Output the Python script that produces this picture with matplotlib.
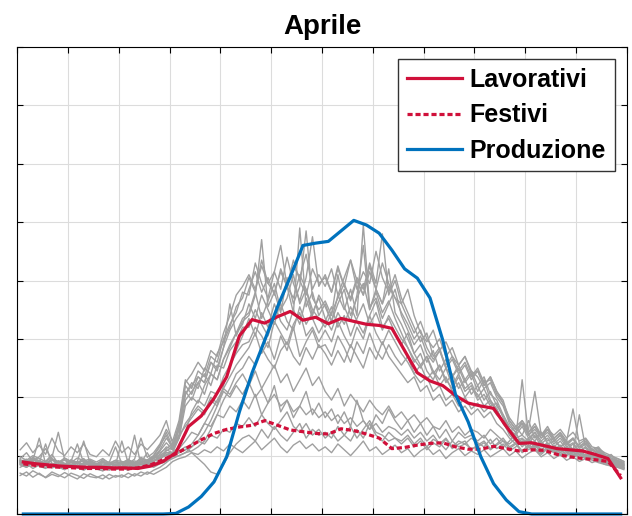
import numpy as np
import matplotlib
matplotlib.use("Agg")
import matplotlib.pyplot as plt

plt.rcParams['font.family'] = ['Liberation Sans', 'DejaVu Sans']

# medie su mezz'ora (48 valori, ore 0.25 ... 23.75)
ore_medie = np.arange(48) * 0.5 + 0.25
lavorativi = [0.89, 0.86, 0.84, 0.82, 0.81, 0.80, 0.80, 0.79, 0.79, 0.78, 0.82, 0.90,
              1.05, 1.50, 1.68, 1.98, 2.35, 3.05, 3.33, 3.27, 3.38, 3.47, 3.32, 3.37,
              3.26, 3.35, 3.30, 3.25, 3.23, 3.18, 2.80, 2.42, 2.28, 2.20, 2.03, 1.90,
              1.85, 1.81, 1.50, 1.21, 1.22, 1.17, 1.12, 1.10, 1.08, 1.02, 0.95, 0.62]
festivi = [0.86, 0.83, 0.81, 0.80, 0.79, 0.78, 0.78, 0.77, 0.77, 0.79, 0.84, 0.93,
           1.03, 1.15, 1.27, 1.38, 1.45, 1.49, 1.52, 1.60, 1.52, 1.44, 1.41, 1.38,
           1.37, 1.46, 1.43, 1.37, 1.30, 1.12, 1.14, 1.18, 1.21, 1.22, 1.15, 1.11,
           1.11, 1.16, 1.12, 1.08, 1.10, 1.09, 1.02, 0.98, 0.95, 0.93, 0.90, 0.66]
produzione = [0, 0, 0, 0, 0, 0, 0, 0, 0, 0, 0, 0,
              0.01, 0.12, 0.30, 0.55, 0.98, 1.75, 2.42, 2.98, 3.55, 4.06, 4.60, 4.64,
              4.67, 4.85, 5.03, 4.95, 4.81, 4.52, 4.20, 4.04, 3.70, 2.98, 2.05, 1.58,
              0.98, 0.52, 0.24, 0.04, 0, 0, 0, 0, 0, 0, 0, 0]

# profili giornalieri al quarto d'ora (96 valori)
ore_quarti = np.arange(96) * 0.25 + 0.125
giorni = [
    [0.92, 0.88, 0.95, 0.85, 0.90, 1.02, 0.86, 0.83, 0.91, 0.80, 0.87, 0.84,
     0.82, 0.90, 0.79, 0.85, 0.81, 0.94, 0.83, 0.88, 1.05, 0.86, 0.92, 1.10,
     1.05, 1.30, 1.95, 2.10, 2.25, 2.05, 2.40, 2.30, 2.65, 2.90, 3.10, 3.35,
     3.45, 3.80, 3.35, 3.65, 3.95, 3.50, 3.70, 4.10, 3.60, 3.85, 3.40, 3.75,
     3.55, 3.30, 3.60, 3.85, 3.40, 3.70, 3.95, 3.50, 3.80, 3.45, 3.65, 3.35,
     3.10, 2.85, 2.60, 2.75, 2.45, 2.30, 2.55, 2.25, 2.40, 2.15, 2.30, 2.05,
     2.20, 1.95, 2.10, 1.85, 1.70, 1.45, 1.30, 1.35, 1.25, 1.40, 1.20, 1.30,
     1.15, 1.25, 1.10, 1.20, 1.05, 1.15, 1.00, 1.08, 0.95, 1.02, 0.90, 0.85],
    [0.95, 1.05, 0.90, 0.98, 1.12, 0.93, 0.88, 0.96, 0.90, 1.20, 0.87, 0.92,
     0.85, 0.93, 0.88, 1.15, 0.86, 0.90, 0.84, 0.97, 0.92, 1.00, 1.18, 1.35,
     1.10, 1.45, 2.05, 2.25, 2.15, 2.50, 2.40, 2.75, 2.95, 3.20, 3.55, 3.70,
     4.05, 3.80, 4.35, 3.95, 4.15, 4.60, 3.90, 4.25, 4.05, 4.45, 3.85, 4.10,
     3.90, 4.20, 3.75, 4.05, 4.35, 3.85, 4.15, 3.95, 4.50, 4.05, 3.80, 4.10,
     3.70, 3.45, 3.20, 2.95, 3.10, 2.70, 2.85, 2.50, 2.65, 2.40, 2.55, 2.30,
     2.45, 2.20, 2.35, 2.10, 1.95, 1.60, 1.45, 1.55, 1.35, 1.50, 1.30, 1.45,
     1.25, 1.35, 1.20, 1.30, 1.15, 1.25, 1.10, 1.05, 1.00, 0.95, 0.92, 0.88],
    [0.80, 0.86, 0.78, 0.84, 0.90, 0.79, 0.82, 0.76, 0.85, 0.80, 0.78, 0.83,
     0.77, 0.81, 0.75, 0.80, 0.78, 0.84, 0.79, 0.86, 0.82, 0.90, 0.95, 1.02,
     1.00, 1.05, 1.10, 1.20, 1.35, 1.55, 1.75, 1.95, 2.15, 2.35, 2.55, 2.70,
     2.85, 3.10, 2.75, 2.95, 2.65, 3.05, 2.80, 3.20, 2.70, 2.95, 3.15, 2.85,
     2.90, 2.70, 3.05, 2.85, 2.60, 2.95, 2.75, 3.10, 2.80, 2.65, 2.90, 2.70,
     2.55, 2.70, 2.40, 2.25, 2.35, 2.10, 2.20, 1.95, 2.05, 1.85, 2.00, 1.80,
     1.90, 1.75, 1.85, 1.70, 1.60, 1.40, 1.25, 1.30, 1.20, 1.35, 1.15, 1.22,
     1.10, 1.18, 1.05, 1.12, 1.00, 1.08, 0.95, 0.98, 0.90, 0.88, 0.85, 0.80],
    [0.88, 0.84, 0.92, 1.30, 0.86, 0.82, 0.90, 0.85, 0.80, 0.88, 0.95, 0.83,
     0.86, 0.80, 0.89, 0.84, 1.25, 0.87, 0.83, 0.91, 0.88, 0.96, 1.02, 1.15,
     1.10, 1.35, 2.20, 2.05, 2.35, 2.25, 2.60, 2.45, 2.85, 3.60, 3.05, 3.30,
     3.40, 3.75, 4.70, 3.55, 3.80, 3.45, 4.05, 3.60, 3.90, 4.85, 3.70, 3.50,
     3.65, 3.40, 4.10, 3.55, 3.30, 3.75, 4.60, 3.50, 3.85, 3.60, 4.20, 3.45,
     3.25, 3.00, 2.75, 2.90, 2.60, 2.80, 2.45, 2.65, 2.35, 2.50, 2.25, 2.40,
     2.10, 2.30, 1.95, 1.80, 1.55, 1.40, 1.50, 1.35, 1.60, 1.30, 1.40, 1.25,
     1.30, 1.15, 1.25, 1.10, 1.20, 1.05, 1.12, 1.00, 0.95, 0.90, 0.87, 0.82],
    [0.90, 0.94, 0.87, 0.92, 0.86, 0.95, 0.89, 0.84, 0.93, 0.88, 0.91, 0.85,
     0.83, 0.88, 0.86, 0.92, 0.85, 0.89, 0.87, 0.94, 0.90, 0.98, 0.96, 1.05,
     1.02, 1.05, 1.10, 1.15, 1.25, 1.40, 1.60, 1.85, 2.20, 2.55, 2.80, 3.05,
     3.35, 3.05, 3.45, 3.20, 3.60, 3.30, 3.15, 3.50, 3.25, 3.70, 3.35, 3.10,
     3.30, 3.55, 3.20, 3.40, 3.05, 3.35, 3.60, 3.25, 3.45, 3.15, 3.40, 3.20,
     3.00, 2.85, 2.65, 2.50, 2.70, 2.40, 2.55, 2.30, 2.15, 2.35, 2.10, 2.20,
     1.95, 2.05, 1.85, 1.90, 1.65, 1.45, 1.35, 1.50, 1.30, 1.40, 1.25, 1.35,
     1.20, 1.30, 1.15, 1.22, 1.08, 1.15, 1.02, 1.05, 0.96, 0.92, 0.90, 0.84],
    [0.98, 0.92, 1.00, 0.95, 0.90, 0.97, 1.40, 0.93, 0.88, 0.96, 0.91, 0.94,
     0.89, 0.95, 0.87, 0.92, 0.90, 0.86, 0.94, 1.30, 0.97, 1.05, 1.20, 1.45,
     1.25, 1.60, 2.30, 2.15, 2.45, 2.35, 2.70, 2.60, 3.00, 3.25, 3.45, 3.80,
     3.75, 4.30, 3.95, 3.70, 4.15, 3.85, 4.40, 3.95, 3.65, 4.05, 4.75, 3.90,
     4.10, 3.80, 4.25, 3.90, 3.70, 4.05, 3.85, 4.30, 3.95, 4.80, 3.75, 4.00,
     3.60, 3.85, 3.40, 3.10, 2.95, 3.15, 2.80, 2.95, 2.70, 2.55, 2.70, 2.45,
     2.35, 2.15, 2.25, 2.00, 1.85, 1.55, 1.40, 1.60, 1.45, 2.10, 1.35, 1.50,
     1.30, 1.40, 1.25, 1.80, 1.20, 1.28, 1.10, 1.15, 1.02, 0.98, 0.95, 0.90],
    [0.85, 0.80, 0.88, 0.83, 0.79, 0.86, 0.81, 0.77, 0.84, 0.80, 0.76, 0.82,
     0.78, 0.74, 0.81, 0.77, 0.80, 0.75, 0.83, 0.79, 0.87, 0.92, 0.98, 1.05,
     1.05, 1.15, 1.40, 1.75, 1.95, 1.85, 2.10, 2.05, 2.35, 2.55, 2.75, 2.90,
     2.95, 3.20, 3.05, 2.85, 3.30, 3.10, 2.90, 3.25, 3.45, 3.05, 3.20, 2.95,
     3.15, 2.95, 3.30, 3.05, 2.85, 3.20, 3.00, 3.40, 3.10, 2.90, 3.15, 2.95,
     2.75, 2.60, 2.40, 2.55, 2.30, 2.45, 2.20, 2.35, 2.10, 2.25, 2.00, 2.15,
     2.05, 1.85, 1.95, 1.75, 1.60, 1.35, 1.25, 1.20, 1.30, 1.15, 1.25, 1.10,
     1.15, 1.05, 1.12, 1.00, 1.08, 0.95, 1.02, 0.90, 0.88, 0.85, 0.82, 0.78],
    [0.93, 0.89, 0.97, 0.91, 0.86, 0.94, 0.88, 0.92, 0.85, 0.90, 1.25, 0.87,
     0.84, 0.90, 0.86, 0.82, 0.88, 0.93, 0.85, 0.91, 0.89, 0.95, 1.08, 1.22,
     1.10, 1.30, 1.85, 2.00, 1.90, 2.20, 2.40, 2.30, 2.65, 2.85, 3.10, 3.25,
     3.60, 3.35, 3.75, 3.50, 3.25, 3.65, 3.90, 3.45, 4.90, 3.55, 3.80, 3.40,
     3.60, 3.30, 3.75, 3.50, 3.85, 3.40, 4.95, 3.55, 3.70, 3.35, 3.60, 3.85,
     3.40, 3.15, 2.90, 3.05, 2.75, 2.60, 2.80, 2.50, 2.35, 2.55, 2.30, 2.45,
     2.20, 2.35, 2.05, 1.95, 1.70, 1.50, 1.40, 1.55, 1.35, 1.45, 1.30, 1.40,
     1.25, 1.35, 1.18, 1.28, 1.12, 1.20, 1.05, 1.10, 0.98, 0.94, 0.90, 0.86],
    [0.87, 0.92, 0.84, 0.90, 0.88, 0.83, 0.91, 0.86, 0.89, 0.82, 0.88, 0.85,
     0.80, 0.86, 0.83, 0.89, 0.81, 0.87, 1.35, 0.84, 0.90, 0.97, 1.10, 1.30,
     1.15, 1.55, 2.10, 1.95, 2.25, 2.40, 2.20, 2.55, 2.50, 2.80, 2.95, 3.20,
     3.20, 3.50, 3.25, 3.05, 3.40, 3.60, 3.30, 3.15, 3.55, 3.25, 3.45, 3.70,
     3.35, 3.15, 3.45, 3.25, 3.55, 3.30, 3.10, 3.40, 3.65, 3.20, 3.35, 3.10,
     2.90, 3.10, 2.75, 2.55, 2.70, 2.45, 2.30, 2.50, 2.20, 2.40, 2.15, 2.25,
     2.00, 2.15, 1.90, 1.80, 1.55, 1.40, 1.30, 2.30, 1.35, 1.25, 1.40, 1.20,
     1.25, 1.15, 1.22, 1.08, 1.70, 1.12, 1.05, 1.00, 0.95, 0.92, 0.88, 0.84],
    [1.10, 1.22, 1.05, 1.18, 1.02, 1.30, 1.08, 1.00, 1.15, 1.05, 1.20, 1.02,
     0.98, 1.10, 1.00, 1.25, 1.05, 1.15, 1.02, 1.20, 1.10, 1.22, 1.35, 1.60,
     1.20, 1.50, 2.25, 2.40, 2.60, 2.45, 2.80, 2.70, 3.10, 3.40, 3.75, 3.90,
     4.10, 3.85, 4.25, 3.95, 3.80, 4.15, 3.90, 4.35, 4.00, 3.75, 4.20, 3.95,
     4.05, 3.80, 4.20, 3.90, 4.35, 4.00, 3.75, 4.15, 3.85, 4.30, 3.95, 3.70,
     3.60, 3.35, 3.10, 3.30, 3.00, 2.85, 3.00, 2.70, 2.85, 2.55, 2.70, 2.40,
     2.45, 2.20, 2.35, 2.10, 1.90, 1.65, 1.50, 1.60, 1.40, 1.55, 1.35, 1.45,
     1.35, 1.45, 1.30, 1.40, 1.25, 1.30, 1.15, 1.12, 1.05, 1.00, 0.95, 0.90],
    [0.66, 0.72, 0.63, 0.70, 0.62, 0.68, 0.64, 0.71, 0.65, 0.60, 0.69, 0.64,
     0.62, 0.67, 0.60, 0.66, 0.63, 0.70, 0.65, 0.72, 0.68, 0.75, 0.80, 0.88,
     0.98, 1.00, 1.05, 1.08, 1.15, 1.25, 1.45, 1.70, 1.95, 2.15, 2.40, 2.50,
     2.70, 2.55, 2.85, 2.65, 2.50, 2.80, 2.95, 2.70, 2.55, 2.85, 2.65, 2.90,
     2.75, 2.55, 2.80, 2.60, 2.90, 2.70, 2.50, 2.85, 2.65, 2.95, 2.70, 2.55,
     2.40, 2.25, 2.35, 2.10, 2.20, 1.95, 2.05, 1.85, 1.95, 1.75, 1.85, 1.70,
     1.80, 1.65, 1.75, 1.55, 1.45, 1.30, 1.20, 1.28, 1.15, 1.25, 1.10, 1.18,
     1.05, 1.12, 1.00, 1.08, 0.95, 1.02, 0.92, 0.88, 0.85, 0.82, 0.80, 0.76],
    [0.91, 0.86, 0.94, 0.89, 0.84, 0.92, 0.87, 0.95, 0.90, 0.85, 0.93, 0.88,
     0.86, 0.91, 0.84, 0.89, 0.87, 0.93, 0.88, 0.95, 0.91, 1.00, 1.15, 1.40,
     1.15, 1.45, 2.05, 2.20, 2.35, 2.25, 2.60, 2.50, 2.85, 3.15, 3.35, 3.50,
     3.85, 4.15, 3.80, 4.05, 3.75, 4.20, 3.90, 3.70, 4.10, 3.85, 3.50, 3.35,
     3.20, 3.45, 3.70, 3.95, 3.65, 4.00, 3.75, 4.25, 3.85, 3.60, 3.90, 3.70,
     3.45, 3.25, 3.00, 3.15, 2.85, 2.65, 2.80, 2.55, 2.70, 2.45, 2.60, 2.35,
     2.50, 2.25, 2.30, 2.05, 1.90, 1.60, 1.45, 1.55, 1.40, 1.50, 1.35, 1.45,
     1.30, 1.38, 1.22, 1.30, 1.15, 1.22, 1.08, 1.12, 1.00, 0.96, 0.92, 0.87],
    [0.84, 0.80, 0.87, 0.82, 0.78, 0.85, 0.80, 0.76, 0.83, 0.79, 0.75, 0.81,
     0.77, 0.74, 0.80, 0.76, 0.79, 0.75, 0.82, 0.78, 0.84, 0.80, 0.86, 0.90,
     0.95, 1.00, 1.05, 1.15, 1.25, 1.20, 1.35, 1.30, 1.45, 1.40, 1.55, 1.50,
     1.65, 1.50, 1.70, 1.55, 1.45, 1.60, 1.75, 1.50, 1.40, 1.55, 1.35, 1.45,
     1.30, 1.40, 1.25, 1.35, 1.50, 1.30, 1.45, 1.60, 1.40, 1.35, 1.25, 1.30,
     1.20, 1.30, 1.15, 1.25, 1.10, 1.22, 1.15, 1.28, 1.12, 1.20, 1.25, 1.10,
     1.18, 1.25, 1.12, 1.20, 1.30, 1.15, 1.22, 1.08, 1.18, 1.12, 1.05, 1.15,
     1.10, 1.02, 1.08, 0.98, 1.05, 0.95, 1.00, 0.92, 0.90, 0.86, 0.84, 0.80],
    [0.88, 0.92, 0.85, 0.90, 0.86, 0.83, 0.89, 0.84, 0.91, 0.87, 0.82, 0.88,
     0.85, 0.81, 0.87, 0.83, 0.86, 0.80, 0.88, 0.84, 0.90, 0.95, 1.00, 1.08,
     1.15, 1.30, 1.55, 1.70, 1.85, 1.75, 2.00, 1.90, 2.15, 2.05, 2.25, 2.40,
     2.20, 2.45, 2.15, 2.35, 2.55, 2.25, 2.40, 2.10, 2.30, 2.50, 2.20, 2.35,
     2.10, 1.95, 2.15, 1.85, 2.05, 1.90, 1.75, 1.95, 1.80, 1.70, 1.85, 1.65,
     1.75, 1.60, 1.70, 1.55, 1.65, 1.50, 1.45, 1.60, 1.40, 1.50, 1.35, 1.45,
     1.40, 1.30, 1.45, 1.35, 1.25, 1.20, 1.30, 1.15, 1.25, 1.18, 1.10, 1.20,
     1.12, 1.05, 1.15, 1.02, 1.08, 0.98, 1.02, 0.94, 0.90, 0.88, 0.85, 0.82],
    [0.70, 0.65, 0.74, 0.68, 0.63, 0.72, 0.67, 0.62, 0.70, 0.66, 0.61, 0.69,
     0.64, 0.60, 0.68, 0.63, 0.67, 0.62, 0.69, 0.65, 0.72, 0.68, 0.74, 0.80,
     0.90, 0.95, 0.98, 1.05, 1.02, 1.10, 1.05, 1.15, 1.08, 1.20, 1.12, 1.05,
     1.15, 1.25, 1.10, 1.20, 1.30, 1.15, 1.05, 1.18, 1.25, 1.12, 1.20, 1.08,
     1.15, 1.05, 1.20, 1.10, 1.00, 1.12, 1.25, 1.08, 1.15, 1.02, 1.10, 1.18,
     1.05, 1.12, 0.98, 1.08, 1.15, 1.02, 1.10, 0.95, 1.05, 1.12, 1.00, 1.08,
     1.02, 1.10, 0.98, 1.05, 1.12, 1.00, 1.08, 0.96, 1.04, 1.10, 0.98, 1.05,
     0.95, 1.02, 0.92, 0.98, 0.90, 0.95, 0.88, 0.92, 0.85, 0.83, 0.80, 0.78],
    [0.90, 0.86, 0.93, 0.88, 1.20, 0.85, 0.91, 0.87, 0.83, 0.89, 0.84, 0.92,
     0.86, 0.82, 0.88, 0.84, 0.80, 0.87, 0.83, 0.89, 0.85, 0.92, 0.96, 1.00,
     1.05, 1.12, 1.25, 1.40, 1.35, 1.55, 1.50, 1.70, 1.65, 1.85, 1.75, 1.95,
     1.80, 2.05, 1.70, 1.90, 2.20, 1.75, 1.95, 1.65, 1.85, 2.10, 1.70, 1.90,
     1.65, 1.80, 1.55, 1.75, 1.50, 1.95, 1.60, 1.45, 1.70, 1.55, 1.80, 1.60,
     1.45, 1.60, 1.40, 1.55, 1.35, 1.50, 1.30, 1.45, 1.25, 1.40, 1.30, 1.35,
     1.25, 1.35, 1.20, 1.30, 1.15, 1.25, 1.40, 1.18, 1.28, 1.12, 1.22, 1.10,
     1.18, 1.08, 1.15, 1.05, 1.10, 1.00, 1.05, 0.96, 0.92, 0.90, 0.86, 0.83],
    [0.86, 0.82, 0.89, 0.84, 0.80, 0.87, 0.83, 0.79, 0.85, 0.81, 0.78, 0.84,
     0.80, 0.77, 0.83, 0.79, 0.82, 0.78, 0.85, 0.81, 0.87, 0.83, 0.90, 0.95,
     1.00, 1.08, 1.15, 1.05, 0.95, 0.85, 0.72, 0.68, 0.85, 1.05, 1.20, 1.30,
     1.35, 1.25, 1.45, 1.30, 1.50, 1.35, 1.25, 1.40, 1.55, 1.30, 1.45, 1.35,
     1.40, 1.30, 1.50, 1.35, 1.25, 1.45, 1.30, 1.55, 1.35, 1.25, 1.40, 1.30,
     1.25, 1.35, 1.20, 1.30, 1.15, 1.28, 1.22, 1.10, 1.25, 1.15, 1.20, 1.12,
     1.15, 1.22, 1.10, 1.18, 1.25, 1.12, 1.20, 1.05, 1.15, 1.10, 1.02, 1.12,
     1.05, 1.12, 1.00, 1.06, 0.96, 1.02, 0.94, 0.98, 0.88, 0.86, 0.83, 0.79],
    [0.92, 0.88, 0.95, 0.90, 0.86, 0.93, 0.89, 0.85, 0.92, 0.87, 0.84, 0.90,
     0.86, 0.83, 0.89, 0.85, 0.88, 0.84, 0.91, 0.87, 0.93, 0.98, 1.05, 1.12,
     1.20, 1.35, 1.50, 1.65, 1.80, 1.70, 1.95, 1.85, 2.10, 2.00, 2.20, 2.05,
     2.25, 2.00, 2.15, 1.90, 2.05, 1.85, 1.95, 1.75, 1.85, 1.70, 1.80, 1.65,
     1.75, 1.60, 1.70, 1.55, 1.65, 1.50, 1.60, 1.45, 1.55, 1.40, 1.50, 1.45,
     1.35, 1.45, 1.30, 1.40, 1.25, 1.35, 1.20, 1.30, 1.15, 1.25, 1.20, 1.30,
     1.22, 1.15, 1.28, 1.12, 1.20, 1.08, 1.15, 1.25, 1.10, 1.18, 1.05, 1.12,
     1.08, 1.00, 1.05, 0.97, 1.02, 0.94, 0.98, 0.90, 0.88, 0.85, 0.82, 0.78],
]

fig = plt.figure(figsize=(6.32, 5.16), dpi=100)
ax = fig.add_axes([17 / 632, 2 / 516, 610 / 632, 467 / 516])

for g in giorni:
    ax.plot(ore_quarti, g, color='#a0a0a0', lw=1.0)

ax.plot(ore_medie, lavorativi, color='#d0103a', lw=2.3, label='Lavorativi')
ax.plot(ore_medie, festivi, color='#d0103a', lw=2.3, ls=(0, (1.6, 0.9)), label='Festivi')
ax.plot(ore_medie, produzione, color='#0072bd', lw=2.3, label='Produzione', clip_on=False)

ax.set_xlim(0, 24)
ax.set_ylim(0, 8)
ax.set_xticks(np.arange(0, 25, 2))
ax.set_yticks(np.arange(0, 9, 1))
ax.tick_params(direction='in', length=4, top=True, right=True,
               labelbottom=False, labelleft=False)
ax.grid(True, color='#dcdcdc', lw=0.8)
ax.set_axisbelow(True)
for s in ax.spines.values():
    s.set_linewidth(0.8)

ax.set_title('Aprile', fontsize=20, fontweight='bold', pad=9)
leg = ax.legend(loc='upper right', prop={'size': 18, 'weight': 'bold'},
                fancybox=False, edgecolor='#333333', framealpha=1,
                handlelength=2.2, handletextpad=0.3, labelspacing=0.45,
                borderpad=0.35, borderaxespad=0.5)
leg.get_frame().set_linewidth(1.0)

fig.savefig('out.png', dpi=100)
